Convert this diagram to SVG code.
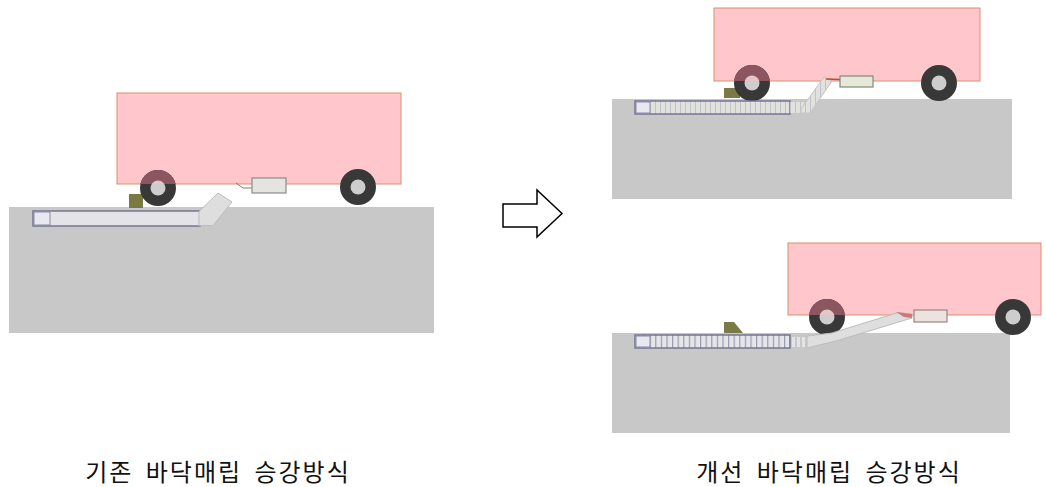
<svg xmlns="http://www.w3.org/2000/svg" width="1045" height="487" viewBox="0 0 1045 487">
  <style>
    .ground { fill: #c8c8c8; }
    .body { fill: #ffc7cb; stroke: #d8906c; stroke-width: 1; }
    .tyre { fill: #383838; }
    .hub { fill: #cdcdcd; }
    .tyre-in { fill: #8c5660; }
    .hub-in { fill: #e2c6c8; }
    .block { fill: #7c7a44; }
    .plug { fill: #e4e4e0; stroke: #8a8a86; stroke-width: 1.2; }
    .pipe { stroke: #6e6e92; stroke-width: 1.4; }
    .cap { fill: #e8e8ee; stroke: #8a8aa6; stroke-width: 1; }
    .hose { fill: #dedede; stroke: #bcbcbc; stroke-width: 1; }
    .label { font-family: "Noto Sans CJK KR", "Noto Sans", sans-serif; font-size: 24px; fill: #111; text-anchor: middle; letter-spacing: 2px; word-spacing: 5px; }
  </style>
  <defs>
    <pattern id="ribs" patternUnits="userSpaceOnUse" width="5.6" height="40">
      <rect width="5.6" height="40" fill="#e6e6e8"/>
      <line x1="0.6" y1="0" x2="0.6" y2="40" stroke="#9a9ab2" stroke-width="1.2"/>
    </pattern>
    <pattern id="ribsFaint" patternUnits="userSpaceOnUse" width="5" height="40">
      <rect width="5" height="40" fill="#e2e2dc"/>
      <line x1="0.5" y1="0" x2="0.5" y2="40" stroke="#c2c2cc" stroke-width="1"/>
    </pattern>
    <!-- body outlines, used to tint the part of the front wheel seen through the body -->
    <clipPath id="clipBodyA"><rect x="117" y="93" width="284" height="91"/></clipPath>
    <clipPath id="clipBodyB"><rect x="714" y="8" width="266" height="73"/></clipPath>
    <clipPath id="clipBodyC"><rect x="788" y="243" width="253" height="72"/></clipPath>
  </defs>
  <rect width="1045" height="487" fill="#ffffff"/>

  <!-- existing floor-buried type -->
  <g id="existing">
    <rect class="ground" x="9" y="207" width="425" height="126"/>
    <rect class="block" x="129" y="194" width="14" height="14"/>
    <rect class="body" x="117" y="93" width="284" height="91"/>
    <g id="existing-wheel-front">
      <circle class="tyre" cx="158" cy="188" r="18"/>
      <circle class="hub" cx="158" cy="188" r="7.5"/>
      <g clip-path="url(#clipBodyA)">
        <circle class="tyre-in" cx="158" cy="188" r="18"/>
        <circle class="hub-in" cx="158" cy="188" r="7.5"/>
      </g>
    </g>
    <g id="existing-wheel-rear">
      <circle class="tyre" cx="358" cy="187" r="18"/>
      <circle class="hub" cx="358" cy="187" r="7.5"/>
    </g>
    <polyline points="236,183 243,188 252,188" fill="none" stroke="#8a7a70" stroke-width="1"/>
    <rect class="plug" x="252" y="178" width="34" height="15"/>
    <g id="existing-pipe">
      <rect x="33" y="211" width="167" height="15" fill="#e4e4e8" class="pipe"/>
      <rect class="cap" x="34" y="212" width="16" height="13"/>
      <polygon class="hose" points="199,211.5 218,193 232,202 213,225.5 199,225.5"/>
    </g>
  </g>

  <!-- transition arrow -->
  <polygon id="arrow" points="503,204 537,204 537,190 562,213.5 537,237 537,227 503,227" fill="#ffffff" stroke="#000000" stroke-width="1.5" stroke-linejoin="miter"/>

  <!-- improved type, stopped -->
  <g id="improved-top">
    <rect class="ground" x="612" y="99" width="400" height="100"/>
    <rect class="block" x="724" y="88" width="16" height="10"/>
    <rect class="body" x="714" y="8" width="266" height="73"/>
    <g id="top-wheel-front">
      <circle class="tyre" cx="752" cy="83" r="18"/>
      <circle class="hub" cx="752" cy="83" r="7.5"/>
      <g clip-path="url(#clipBodyB)">
        <circle class="tyre-in" cx="752" cy="83" r="18"/>
        <circle class="hub-in" cx="752" cy="83" r="7.5"/>
      </g>
    </g>
    <g id="top-wheel-rear">
      <circle class="tyre" cx="939" cy="83" r="18"/>
      <circle class="hub" cx="939" cy="83" r="7.5"/>
    </g>
    <g id="top-pipe">
      <rect x="635" y="101" width="155" height="13" fill="url(#ribsFaint)" class="pipe"/>
      <rect class="cap" x="636" y="102" width="14" height="11"/>
      <rect x="790" y="102" width="14" height="11" fill="url(#ribsFaint)"/>
      <polygon points="801,109 824,77 832,81 810,113 801,113" fill="url(#ribsFaint)" stroke="#c4c4c4" stroke-width="1"/>
    </g>
    <line x1="826" y1="79" x2="840" y2="79.5" stroke="#b4503c" stroke-width="1.3"/>
    <rect x="840" y="76" width="33" height="11" fill="#e6e8d8" stroke="#7c8a7c" stroke-width="1.2"/>
  </g>

  <!-- improved type, moving -->
  <g id="improved-bottom">
    <rect class="ground" x="612" y="333" width="398" height="100"/>
    <polygon class="block" points="724,333 724,322 734,322 743,333"/>
    <rect class="body" x="788" y="243" width="253" height="72"/>
    <g id="bottom-wheel-front">
      <circle class="tyre" cx="827" cy="317" r="18"/>
      <circle class="hub" cx="827" cy="317" r="7.5"/>
      <g clip-path="url(#clipBodyC)">
        <circle class="tyre-in" cx="827" cy="317" r="18"/>
        <circle class="hub-in" cx="827" cy="317" r="7.5"/>
      </g>
    </g>
    <g id="bottom-wheel-rear">
      <circle class="tyre" cx="1013" cy="317" r="18"/>
      <circle class="hub" cx="1013" cy="317" r="7.5"/>
    </g>
    <g id="bottom-pipe">
      <rect x="635" y="335" width="155" height="13" fill="url(#ribs)" class="pipe"/>
      <rect class="cap" x="636" y="336" width="14" height="11"/>
      <rect x="792" y="337" width="3" height="10" fill="#e4e4e8"/>
      <rect x="797" y="337" width="3" height="10" fill="#e4e4e8"/>
      <rect x="802" y="337" width="3" height="10" fill="#e4e4e8"/>
      <polygon class="hose" points="807,336 832,333 898,312.5 912,314.5 912,318 836,341 807,348"/>
      <polygon points="896,312 912,314 912,318 904,317" fill="#c87a78"/>
    </g>
    <rect x="914" y="310" width="33" height="12" fill="#ece2e0" stroke="#9a8480" stroke-width="1.2"/>
  </g>

  <!-- captions -->
  <text class="label" x="218" y="481">기존 바닥매립 승강방식</text>
  <text class="label" x="829" y="481">개선 바닥매립 승강방식</text>
</svg>
